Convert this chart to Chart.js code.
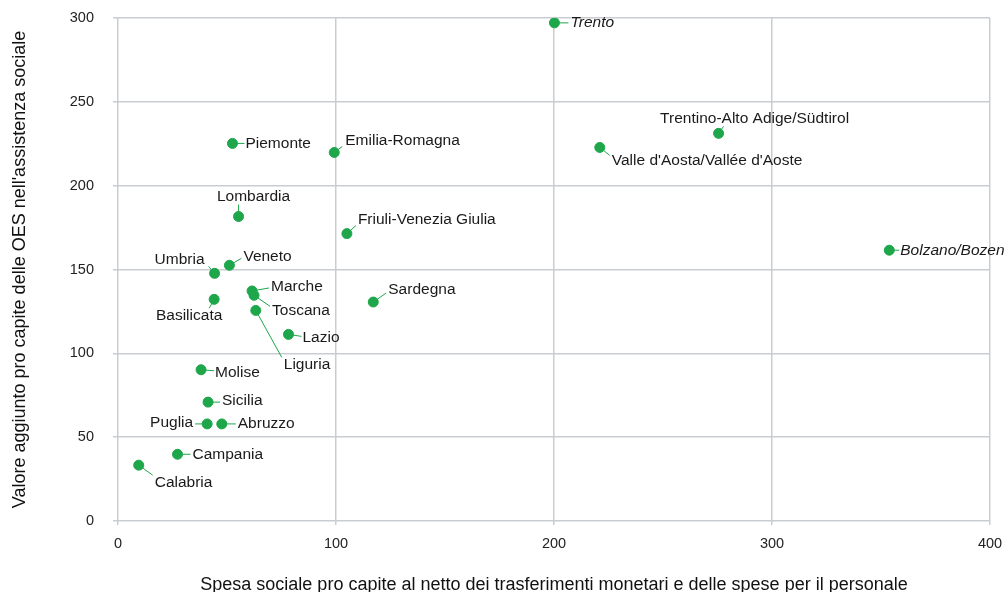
<!DOCTYPE html>
<html>
<head>
<meta charset="utf-8">
<script src="https://cdn.jsdelivr.net/npm/chart.js@4"></script>
<style>
  html, body { margin: 0; padding: 0; background: #fff; }
  #wrap { width: 1005px; height: 592px; }
</style>
</head>
<body>
<div id="wrap"><canvas id="scatterChart"></canvas></div>
<script>
// regions and their values (x: spesa sociale pro capite, y: valore aggiunto OES pro capite)
const regions = [
    'Trento', 'Trentino-Alto Adige/Südtirol', "Valle d'Aosta/Vallée d'Aoste", 'Bolzano/Bozen',
    'Piemonte', 'Emilia-Romagna', 'Lombardia', 'Friuli-Venezia Giulia',
    'Umbria', 'Veneto', 'Basilicata', 'Marche', 'Toscana', 'Liguria', 'Lazio', 'Sardegna',
    'Molise', 'Sicilia', 'Puglia', 'Abruzzo', 'Campania', 'Calabria'
];
const spesaSociale = [
    200.2, 275.5, 221.0, 353.8,
    52.5, 99.2, 55.3, 105.0,
    44.3, 51.1, 44.1, 61.5, 62.4, 63.2, 78.2, 117.1,
    38.1, 41.3, 40.9, 47.6, 27.3, 9.5
];
const valoreAggiunto = [
    297.1, 231.2, 222.8, 161.5,
    225.2, 219.8, 181.6, 171.4,
    147.7, 152.5, 132.2, 137.2, 134.6, 125.6, 111.3, 130.6,
    90.2, 70.9, 57.9, 57.9, 39.8, 33.3
];
const xTicks = [0, 100, 200, 300, 400];
const yTicks = [0, 50, 100, 150, 200, 250, 300];

// label placement: text offset (dx, dy), alignment, leader end (lx, ly) in px from the point
const labelLayout = {
    'Trento': [16, 0, 'left', 14, 0],
    'Trentino-Alto Adige/Südtirol': [36, -15, 'center', 5, -7],
    "Valle d'Aosta/Vallée d'Aoste": [12, 13, 'left', 10, 8],
    'Bolzano/Bozen': [11, 0, 'left', 10, 0],
    'Piemonte': [13, 0, 'left', 12, 0],
    'Emilia-Romagna': [11, -12, 'left', 8, -6],
    'Lombardia': [15, -20, 'center', 0, -12],
    'Friuli-Venezia Giulia': [11, -14, 'left', 9, -8],
    'Umbria': [-10, -14, 'right', -6, -7],
    'Veneto': [14, -9, 'left', 12, -7],
    'Basilicata': [-25, 16, 'center', -5, 9],
    'Marche': [19, -4, 'left', 17, -3],
    'Toscana': [18, 15, 'left', 16, 11],
    'Liguria': [28, 54, 'left', 26, 47],
    'Lazio': [14, 3, 'left', 13, 2],
    'Sardegna': [15, -12, 'left', 13, -9],
    'Molise': [14, 3, 'left', 13, 1],
    'Sicilia': [14, -1, 'left', 12, 0],
    'Puglia': [-14, -1, 'right', -12, 0],
    'Abruzzo': [16, 0, 'left', 14, 0],
    'Campania': [15, 0, 'left', 13, 0],
    'Calabria': [16, 18, 'left', 14, 10]
};
const italicLabels = ['Trento', 'Bolzano/Bozen'];

const GREEN = '#1ea64b';
const FONT = '"Liberation Sans", Arial, Helvetica, sans-serif';

const pointLabels = {
    id: 'pointLabels',
    beforeDatasetsDraw(chart) {
        const ctx = chart.ctx;
        const meta = chart.getDatasetMeta(0);
        ctx.save();
        ctx.strokeStyle = GREEN;
        ctx.lineWidth = 1;
        meta.data.forEach((pt, i) => {
            const l = labelLayout[regions[i]];
            ctx.beginPath();
            ctx.moveTo(pt.x, pt.y);
            ctx.lineTo(pt.x + l[3], pt.y + l[4]);
            ctx.stroke();
        });
        ctx.restore();
    },
    afterDatasetsDraw(chart) {
        const ctx = chart.ctx;
        const meta = chart.getDatasetMeta(0);
        ctx.save();
        ctx.fillStyle = '#1a1a1a';
        ctx.textBaseline = 'middle';
        meta.data.forEach((pt, i) => {
            const name = regions[i];
            const l = labelLayout[name];
            ctx.font = (italicLabels.includes(name) ? 'italic ' : '') + '15.5px ' + FONT;
            ctx.textAlign = l[2];
            ctx.fillText(name, pt.x + l[0], pt.y + l[1]);
        });
        ctx.restore();
    }
};

// drop the label overhang so the plot area is set by layout padding only
function noOverhang(s) {
    s.paddingTop = 0;
    s.paddingBottom = 0;
    s.paddingLeft = 0;
    s.paddingRight = 0;
}

Chart.defaults.font.family = FONT;
Chart.defaults.color = '#222';

new Chart(document.getElementById('scatterChart'), {
    type: 'scatter',
    data: {
        datasets: [{
            data: spesaSociale.map((x, i) => ({ x: x, y: valoreAggiunto[i] })),
            backgroundColor: GREEN,
            borderColor: GREEN,
            pointRadius: 5,
            pointHoverRadius: 5
        }]
    },
    options: {
        responsive: true,
        maintainAspectRatio: false,
        animation: false,
        layout: { padding: { top: 18, right: 15, left: 0, bottom: 0 } },
        plugins: {
            legend: { display: false },
            tooltip: { enabled: false }
        },
        scales: {
            x: {
                type: 'linear',
                min: 0,
                max: 400,
                afterBuildTicks: s => { s.ticks = xTicks.map(v => ({ value: v })); },
                afterFit: s => { s.height = 71; noOverhang(s); },
                grid: { color: '#c9cdd1', lineWidth: 1.5, tickLength: 4 },
                border: { display: false },
                ticks: { font: { size: 14.5 }, padding: 10, color: '#222' },
                title: {
                    display: true,
                    text: 'Spesa sociale pro capite al netto dei trasferimenti monetari e delle spese per il personale',
                    font: { size: 18, lineHeight: 0.8 },
                    color: '#111',
                    padding: { top: 0, bottom: 0 }
                }
            },
            y: {
                type: 'linear',
                min: 0,
                max: 300,
                afterBuildTicks: s => { s.ticks = yTicks.map(v => ({ value: v })); },
                afterFit: s => { s.width = 118; noOverhang(s); },
                grid: { color: '#c9cdd1', lineWidth: 1.5, tickLength: 5 },
                border: { display: false },
                ticks: { font: { size: 14.5 }, padding: 19, color: '#222' },
                title: {
                    display: true,
                    text: "Valore aggiunto pro capite delle OES nell'assistenza sociale",
                    font: { size: 18, lineHeight: 0.8 },
                    color: '#111',
                    padding: { top: 13, bottom: 0 }
                }
            }
        }
    },
    plugins: [pointLabels]
});
</script>
</body>
</html>
